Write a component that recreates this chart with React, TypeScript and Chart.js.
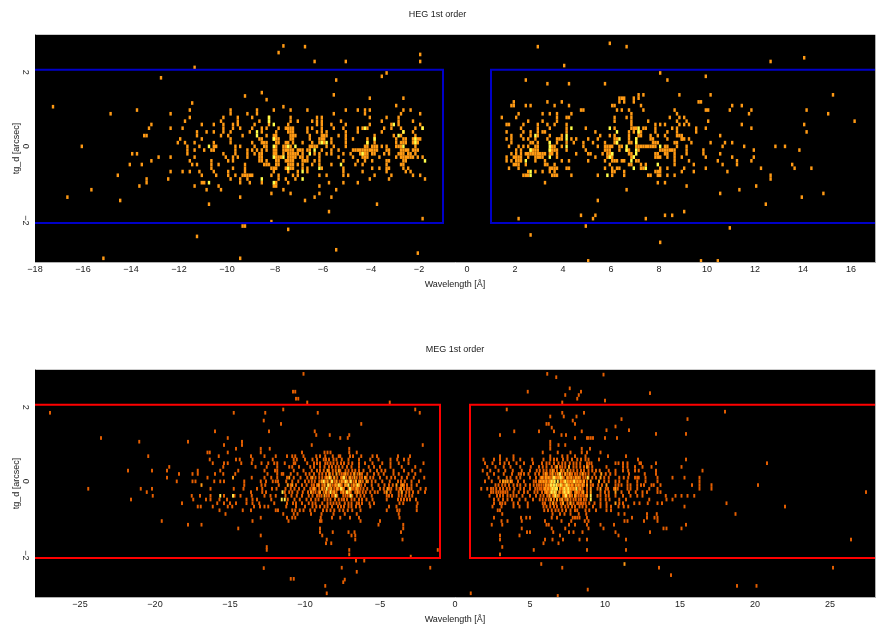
import { useEffect, useRef } from 'react';
import { Chart, registerables } from 'chart.js';

Chart.register(...registerables);

type Rows = [number, number[]][];

const hegTicks = [-18, -16, -14, -12, -10, -8, -6, -4, -2, 0, 2, 4, 6, 8, 10, 12, 14, 16];
const megTicks = [-25, -20, -15, -10, -5, 0, 5, 10, 15, 20, 25];
const dTicks = [-2, 0, 2];

const hegBoxLeft = [[-18, 2.07], [-1, 2.07], [-1, -2.07], [-18, -2.07]];
const hegBoxRight = [[17, 2.07], [1, 2.07], [1, -2.07], [17, -2.07]];
const megBoxLeft = [[-28, 2.07], [-1, 2.07], [-1, -2.07], [-28, -2.07]];
const megBoxRight = [[28, 2.07], [1, 2.07], [1, -2.07], [28, -2.07]];

// [tg_d, wavelengths] for each row of counts
const hegRows: Rows = [
  [2.78, [5.95]],
  [2.71, [-7.65]],
  [2.69, [-6.75, 2.95, 6.65]],
  [2.53, [-7.85]],
  [2.48, [-1.95]],
  [2.39, [14.05]],
  [2.29, [-6.35, -5.05, -1.95, 12.65]],
  [2.18, [4.05]],
  [2.13, [-11.35]],
  [1.98, [-3.35, 8.05]],
  [1.89, [-3.55, 9.95]],
  [1.85, [-12.75]],
  [1.79, [-5.45, 2.45, 8.35]],
  [1.69, [3.35, 4.25, 5.75]],
  [1.45, [-8.55]],
  [1.39, [-5.55, 7.15, 7.35, 8.85, 10.15, 15.25]],
  [1.36, [-9.25]],
  [1.3, [-4.05, -2.65, 6.35, 6.45, 6.55, 6.95, 7.15]],
  [1.26, [-8.35]],
  [1.2, [1.95, 3.35, 3.95, 6.35, 6.55, 6.95, 9.65, 9.75]],
  [1.17, [-11.45]],
  [1.1, [-2.95, 1.85, 1.95, 2.45, 2.65, 3.65, 4.25, 6.05, 6.15, 7.25, 11.05, 11.45]],
  [1.07, [-17.25, -7.65]],
  [0.98, [-13.75, -11.55, -9.85, -8.75, -8.05, -7.35, -6.65, -5.05, -4.55, -4.25, -4.05, -2.65, -2.35, 4.75, 4.85, 6.25, 6.45, 6.75, 7.35, 8.65, 9.95, 10.05, 10.95, 11.85, 14.15]],
  [0.88, [-14.85, -12.35, -9.85, -9.15, -8.75, -5.55, -4.25, -2.75, -1.95, 2.15, 3.15, 3.45, 3.75, 4.35, 6.85, 8.75, 11.75, 15.05]],
  [0.78, [-11.55, -10.15, -9.55, -8.95, -8.25, -7.35, -6.25, -6.05, -4.05, -3.35, -2.85, 1.45, 2.05, 3.75, 4.15, 4.25, 6.15, 6.65, 6.85, 8.45, 8.85, 9.05]],
  [0.68, [-11.75, -10.25, -9.55, -8.65, -8.25, -7.35, -7.05, -6.45, -6.25, -6.05, -5.25, -3.55, -2.85, -2.25, 2.55, 3.15, 3.75, 6.15, 6.85, 7.55, 8.75, 9.15, 10.05, 16.15]],
  [0.59, [-13.15, -11.05, -10.55, -10.15, -9.75, -9.55, -8.85, -8.25, -7.45, -6.25, -6.05, -5.65, -5.05, -4.05, -3.15, -2.85, -1.95, 1.65, 1.75, 2.35, 2.95, 3.35, 3.65, 4.15, 6.85, 7.85, 8.05, 8.25, 8.85, 9.05, 9.25, 11.45, 14.05]],
  [0.49, [-13.25, -12.35, -11.85, -10.15, -9.75, -9.45, -8.95, -8.55, -8.35, -7.85, -7.45, -7.35, -7.25, -6.65, -6.45, -6.05, -5.55, -5.15, -4.55, -4.35, -4.15, -3.45, -3.15, -2.75, -2.15, -1.85, 2.25, 2.95, 3.45, 4.15, 4.95, 6.15, 6.85, 7.45, 7.85, 8.55, 8.75, 9.55, 9.95, 11.85]],
  [0.39, [-11.25, -10.85, -10.55, -10.15, -9.85, -9.05, -8.55, -7.95, -7.35, -7.25, -6.65, -6.25, -6.05, -5.85, -5.05, -4.55, -3.55, -2.65, -2.25, 1.65, 2.35, 2.65, 2.95, 3.15, 4.15, 5.35, 6.75, 6.95, 7.25, 7.85, 8.35, 8.75, 9.55, 14.15]],
  [0.29, [-13.45, -13.35, -11.25, -10.25, -9.95, -9.35, -8.35, -8.05, -7.35, -7.15, -6.55, -6.05, -5.85, -5.35, -5.05, -3.85, -3.05, -2.75, -2.15, 1.85, 2.25, 2.65, 2.95, 3.45, 3.95, 5.55, 5.95, 6.15, 6.75, 7.25, 7.65, 7.95, 8.25, 8.75, 10.55]],
  [0.2, [-11.95, -11.05, -9.85, -8.55, -8.05, -7.85, -7.35, -7.25, -6.55, -6.05, -5.65, -5.05, -4.75, -4.15, -3.85, -2.95, -2.65, -2.15, -1.95, 1.65, 1.85, 2.35, 2.55, 2.85, 3.35, 3.75, 3.95, 4.35, 4.55, 5.05, 5.45, 6.15, 6.75, 7.05, 7.65, 8.35, 8.95, 9.25]],
  [0.1, [-12.05, -11.75, -11.35, -10.55, -9.85, -8.95, -8.55, -8.35, -7.85, -7.45, -7.25, -6.85, -6.45, -5.65, -5.05, -4.15, -3.85, -2.95, -2.65, -2.15, 1.85, 2.65, 2.95, 3.45, 3.75, 4.15, 4.45, 4.85, 5.25, 5.75, 6.15, 6.75, 7.05, 7.95, 8.75, 9.35, 10.15, 10.75, 11.05]],
  [0, [-16.05, -11.65, -11.15, -10.55, -10.45, -9.65, -9.45, -8.85, -8.35, -7.65, -7.35, -6.45, -6.25, -5.85, -5.55, -5.05, -4.25, -3.85, -3.55, -3.35, -2.85, -2.15, 1.75, 2.15, 2.35, 2.55, 2.85, 3.65, 3.95, 4.85, 5.45, 5.85, 6.05, 6.35, 7.05, 7.45, 7.65, 8.25, 8.75, 9.15, 10.65, 11.55, 12.85, 13.25]],
  [-0.1, [-11.65, -11.35, -10.95, -10.65, -10.55, -9.65, -9.15, -8.95, -8.75, -8.35, -8.05, -7.65, -7.45, -7.35, -7.05, -6.85, -6.65, -6.05, -5.65, -5.35, -4.75, -4.55, -4.15, -3.85, -3.35, -3.25, -2.75, -2.55, -2.25, 2.05, 2.25, 2.65, 2.95, 3.45, 3.75, 4.15, 4.95, 5.75, 5.95, 6.35, 6.65, 7.15, 8.05, 8.45, 9.15, 9.85, 11.95, 13.85]],
  [-0.2, [-13.95, -13.75, -11.65, -10.15, -9.65, -9.15, -8.85, -8.65, -8.05, -7.65, -7.45, -7.35, -7.15, -6.85, -6.15, -5.85, -5.65, -5.15, -4.85, -4.25, -3.85, -3.45, -3.25, -2.85, -2.45, -2.15, 1.85, 2.05, 2.45, 2.65, 2.85, 3.15, 3.55, 3.75, 4.55, 5.05, 5.15, 5.65, 6.05, 6.75, 7.95, 8.25, 8.65, 9.15, 9.85, 10.55]],
  [-0.29, [-12.85, -12.35, -11.35, -10.05, -9.75, -9.55, -9.15, -8.65, -7.85, -7.45, -7.35, -7.15, -6.85, -6.65, -6.15, -5.35, -4.75, -4.35, -4.15, -3.65, -2.95, -2.75, -2.45, -2.05, -1.85, 1.65, 1.95, 2.15, 2.55, 2.95, 3.15, 3.75, 5.35, 5.95, 6.95, 7.95, 8.35, 8.65, 8.95, 9.95, 11.05, 11.95]],
  [-0.39, [-13.15, -11.55, -10.65, -9.95, -9.75, -8.65, -8.35, -7.85, -7.55, -7.35, -7.25, -6.85, -6.65, -6.35, -6.15, -5.15, -4.55, -4.25, -3.95, -3.35, -3.25, -2.65, 1.65, 1.85, 2.15, 2.85, 3.25, 3.95, 4.25, 5.05, 5.75, 6.05, 6.55, 8.65, 9.25, 10.45, 11.25, 11.85]],
  [-0.49, [-14.05, -13.55, -11.45, -11.25, -10.65, -10.35, -9.25, -8.35, -8.25, -7.85, -7.45, -7.35, -7.05, -6.85, -6.45, -6.15, -5.65, -4.65, -4.35, -3.35, -2.75, 1.95, 2.15, 2.45, 3.25, 3.65, 5.95, 6.75, 7.25, 7.45, 8.65, 9.45, 10.65, 11.25, 13.55]],
  [-0.59, [-10.65, -9.75, -9.25, -8.15, -7.95, -7.55, -7.35, -6.85, -6.65, -6.05, -5.15, -3.95, -3.65, -3.35, -2.65, -2.45, 1.75, 2.15, 3.45, 3.65, 4.15, 4.25, 5.75, 6.05, 6.35, 7.25, 8.05, 8.35, 9.05, 9.95, 12.25, 13.65, 14.35]],
  [-0.68, [-12.35, -11.85, -11.55, -11.15, -10.55, -9.95, -9.25, -7.45, -7.05, -6.65, -5.15, -4.35, -3.35, -2.55, -2.35, 2.85, 3.15, 3.45, 3.65, 6.05, 6.55, 7.85, 8.95, 9.45, 10.85]],
  [-0.78, [-14.55, -11.05, -10.45, -9.95, -9.65, -9.25, -9.05, -8.95, -8.15, -7.85, -7.25, -7.05, -6.15, -5.85, -5.15, -4.95, -3.85, -3.15, -2.25, -1.95, 2.45, 2.55, 3.55, 3.65, 4.35, 5.45, 6.05, 6.55, 7.65, 7.95, 8.35, 8.65, 12.65]],
  [-0.88, [-13.35, -12.45, -9.85, -9.45, -9.15, -7.85, -7.55, -7.15, -4.05, -3.25, -1.75, 12.65]],
  [-0.98, [-13.35, -11.05, -10.95, -9.45, -9.05, -8.55, -7.95, -7.45, -5.75, -5.15, -4.55, 3.25, 7.95, 8.25]],
  [-1.07, [-13.65, -11.35, -10.35, -8.05, -7.95, -6.15, 9.15, 12.05]],
  [-1.17, [-15.65, -10.85, -10.25, -7.65, -5.45, 6.65, 11.35]],
  [-1.27, [-8.15, -7.35, -6.15, 10.55, 14.85]],
  [-1.37, [-16.65, -9.45, -6.35, -5.65, 13.95]],
  [-1.46, [-14.45, -6.75, 5.45]],
  [-1.56, [-10.75, -3.75, 12.45]],
  [-1.76, [-5.75, 9.05]],
  [-1.86, [4.75, 5.35, 8.25, 8.55]],
  [-1.95, [-1.85, 2.15, 5.25, 7.45]],
  [-2.03, [-8.15]],
  [-2.15, [-9.35, -9.25, 4.95]],
  [-2.2, [10.95]],
  [-2.24, [-7.45]],
  [-2.39, [2.65]],
  [-2.43, [-11.25]],
  [-2.59, [8.05]],
  [-2.79, [-5.45]],
  [-2.88, [-2.05]],
  [-3.02, [-15.15, -9.45]],
  [-3.09, [5.05, 9.75, 10.45]],
];

// wider patches of neighbouring bins in the dense part of the HEG image
const hegPatchRows: Rows = [
  [0.49, [-7.55, 6.95, 7.05, 7.35]],
  [0.39, [-7.45, 3.25, 7.15]],
  [0.29, [-7.95, -7.25, -5.95, 7.15, 8.85, 8.95]],
  [0.2, [-8.65, -7.95, -6.15, -5.95, -2.55, -2.25, -2.05, 3.85, 6.25, 7.75, 8.95, 9.05]],
  [0.1, [-8.45, -7.95, -7.55, -6.15, -5.95, -2.75, -2.55, -2.25, -2.05, 2.75, 6.25, 6.85, 7.75, 7.85, 8.65]],
  [0, [-8.45, -7.95, -7.55, -6.55, -6.35, -4.15, -3.95, -3.75, -2.95, -2.75, 2.95, 3.55, 5.75, 5.95, 6.45, 7.15, 7.25, 7.35, 7.55, 7.75, 7.85, 8.35]],
  [-0.1, [-8.55, -7.95, -7.55, -7.25, -6.95, -6.55, -4.65, -4.45, -4.35, -4.25, -4.05, -3.95, -3.75, -2.65, -2.45, -2.15, -2.05, 2.75, 2.85, 3.55, 3.65, 5.85, 6.75, 8.15, 8.25, 8.35, 8.55, 8.65]],
  [-0.2, [-8.55, -7.95, -7.25, -7.05, -6.35, -4.45, -4.35, -4.15, -3.95, -2.75, -2.65, -2.35, 2.25, 2.55, 2.75, 2.95, 3.05, 3.25, 3.45, 5.85, 5.95, 6.85, 7.85, 8.35]],
  [-0.29, [-8.55, -7.95, -7.75, -7.25, -6.95, -4.25, -2.65, -2.55, -2.35, -2.25, 2.05, 2.25, 2.85, 3.05, 5.85, 6.05, 6.85, 7.85, 8.05]],
  [-0.39, [-8.55, -7.95, -7.45, -6.75, -2.55, 2.25, 2.05, 6.15, 6.25, 6.45, 7.05, 7.15]],
  [-0.49, [-8.45, -7.95, -7.25, -2.65, 2.05, 3.35, 6.85]],
  [-0.59, [-8.05, -7.25, -3.25, 3.55, 3.75, 6.25, 7.35]],
  [-0.68, [-8.05, 2.55, 6.15, 7.95, 8.05]],
  [-0.78, [-9.15, -9.35, 2.35, 3.75, 7.55, 8.05]],
];

const hegHotRows: Rows = [
  [0.78, [-8.25]],
  [0.68, [-8.25]],
  [0.59, [-8.05, -3.05]],
  [0.49, [-4.25, -1.85, 4.35, 5.95, 7.15]],
  [0.39, [-8.75, -2.65, 6.25, 7.15]],
  [0.29, [-8.75, -2.85, 2.85, 4.15]],
  [0.2, [-8.05, -3.85, -2.15, 4.15, 6.35, 7.05]],
  [0.1, [-6.05, -5.85, -4.15, -2.15, 3.45, 6.25, 7.05]],
  [0, [-10.75, -8.05, -7.45, -7.15, -2.65, 3.45, 4.15, 6.65, 8.05]],
  [-0.1, [-6.35, 2.65, 3.45, 6.65, 7.05]],
  [-0.2, [-6.55, -4.35, 6.05, 7.05]],
  [-0.29, [-8.05, -7.65, 3.45, 5.95, 6.95]],
  [-0.39, [-1.75, 2.45, 6.85]],
  [-0.49, [-5.25, 7.95]],
  [-0.59, [-7.45, -6.15, 6.95, 7.45]],
  [-0.68, [-6.85, 2.65]],
  [-0.78, [2.65, 5.85]],
  [-0.88, [-8.55, -6.85]],
  [-0.98, [-10.75, -8.05]],
];

const megRows: Rows = [
  [2.9, [-10.1, 6.15]],
  [2.88, [9.9]],
  [2.81, [6.75]],
  [2.51, [7.65]],
  [2.42, [-10.8, -10.65, 4.85, 8.4]],
  [2.38, [13]],
  [2.33, [7.35, 8.25]],
  [2.23, [-10.6, -10.45, 8.15]],
  [2.13, [-9.85, -4.35, 7.15]],
  [2.18, [10]],
  [1.94, [-11.45, -2.65, 3.45]],
  [1.88, [18]],
  [1.85, [-27, -14.75, -12.65, -9.15, -2.35, 7.15, 8.6]],
  [1.75, [6.35, 7.25, 8.1]],
  [1.68, [11.1, 15.5]],
  [1.64, [-12.75, 7.85]],
  [1.55, [-11.6, -6.25, 6.1, 6.25, 8]],
  [1.48, [10.7]],
  [1.45, [6.45]],
  [1.38, [10.1, 11.6]],
  [1.35, [-16, -12.4, -9.35, 3.95, 5.6, 6.6, 8.45]],
  [1.28, [13.4, 15.4]],
  [1.25, [-9.25, -8.35, -7.05, 3, 7.1, 7.4]],
  [1.17, [-23.6, -15.15, -7.65, -7.15, 8, 8.8, 8.9, 9.05, 9.2, 10, 10.8]],
  [1.07, [-21.05, -17.8, -14.2, 6.35]],
  [0.98, [-15.4, -14.2, -9.55, -2.15, 6.35, 6.9, 7.35]],
  [0.88, [-14.6, -12.95, -12.35, -7.05, 6.35, 8.45, 9]],
  [0.78, [-16.5, -16.35, -15.15, -12.95, -10.2, -8.7, -8.5, -8.3, -7.05, -6.55, 5.85, 6.85, 7.7, 8.45, 8.8, 9.7]],
  [0.68, [-20.45, -15.75, -13.6, -12.7, -11.95, -11.2, -10.85, -10.65, -10.1, -9.25, -9, -8.65, -8.15, -7.75, -7.65, -7, -6.8, -6.25, -5.5, -5.2, -3.8, -3, 3, 3.9, 6.35, 7.15, 7.5, 8, 8.7, 10.2, 11.4]],
  [0.59, [-16.35, -14.6, -14.35, -13.5, -12.15, -10.75, -10.55, -10, -9.2, -8.75, -8.4, -8.1, -7.55, -7.1, -6.4, -5.65, -5.1, -4.3, -3.85, -3.4, -3.1, 1.9, 2.6, 3, 3.45, 3.9, 4.35, 5.15, 5.9, 6.35, 6.8, 7.5, 8.15, 8.7, 8.9, 9.6, 12.2, 15.4]],
  [0.49, [-16.15, -15.4, -15.15, -14.25, -13.55, -12.9, -12.45, -12.05, -11.85, -11.35, -10.75, -10.65, -9.85, -9.4, -9, -8.65, -8.3, -7.85, -7.4, -6.85, -6.4, -6, -5.5, -4.85, -4.3, -3.75, -3.1, -2.1, 2, 2.5, 3, 3.6, 4.1, 4.6, 5.2, 5.8, 6.1, 6.6, 6.9, 7.35, 7.65, 7.9, 8.35, 8.8, 8.95, 9.1, 10.7, 10.9, 11.2, 11.5, 12.3, 12.4, 13.4, 20.8]],
  [0.39, [-19.05, -15.45, -13.3, -12.55, -11.85, -11.05, -10.85, -10.4, -9.65, -9, -8.4, -8.2, -7.75, -7.2, -6.4, -5.75, -5, -4.3, -3.55, -2.65, 2.15, 2.7, 3.25, 3.7, 4.35, 5.05, 5.6, 6.1, 6.45, 7, 7.35, 7.9, 8.35, 8.9, 9.15, 10.1, 11.2, 11.5, 12, 12.5, 13.1, 15.1]],
  [0.29, [-21.8, -20.2, -19.2, -17.15, -15.65, -14.45, -12.7, -12, -11.85, -10.75, -10.1, -9.55, -8.75, -8.4, -7.65, -7.3, -6.65, -6.1, -5.65, -5.2, -4.65, -4.1, -3.4, -2.85, -2.3, 1.85, 2.35, 2.9, 3.35, 3.85, 4.45, 5, 5.45, 5.9, 6.35, 6.8, 7.25, 7.7, 8.15, 8.6, 9.15, 9.4, 9.65, 10.25, 10.7, 11.2, 11.55, 12, 12.25, 13.4, 16.5]],
  [0.2, [-18.4, -17.5, -17.15, -16, -15.45, -14.65, -12.5, -11.85, -11.55, -11.45, -10.95, -10.5, -9.95, -9.7, -9.05, -8.6, -8.15, -7.7, -7.4, -6.95, -6.5, -6.2, -5.4, -4.75, -4.1, -3.75, -3.1, -2.65, 2.15, 2.6, 3.25, 3.8, 4.25, 4.6, 4.9, 5.6, 5.9, 6.15, 6.35, 6.7, 6.95, 7.15, 7.5, 7.8, 8.15, 8.35, 8.7, 8.9, 9.3, 10.05, 10.35, 10.7, 11.6, 12.65, 13.4]],
  [0.1, [-19.2, -16.5, -13.55, -12.7, -12.25, -11.85, -11.2, -10.75, -10.3, -9.85, -9.6, -9.3, -8.85, -8.45, -8.25, -7.85, -7.6, -7.25, -6.85, -6.55, -6.2, -5.9, -5.45, -5, -4.55, -4, -3.55, -3.2, -2.75, -2.05, 2.25, 2.9, 3.45, 4.1, 4.35, 5, 5.7, 5.9, 6.15, 6.35, 6.8, 7, 7.25, 7.6, 7.9, 8.15, 8.35, 8.7, 8.9, 9.15, 9.4, 9.95, 10.25, 10.95, 11.25, 11.55, 12, 12.15, 12.25, 12.7, 13.5, 14.5, 15.3, 16.3]],
  [0, [-18.55, -17.5, -17.3, -16.05, -15.65, -15.4, -14.05, -12.95, -12.6, -12.15, -11.95, -11.8, -11.25, -10.85, -10.45, -10, -9.75, -9.35, -9.05, -8.65, -8.3, -8.05, -7.7, -7.4, -7.05, -6.75, -6.4, -6.15, -5.8, -5.3, -4.85, -4.35, -3.8, -3.35, -2.9, -2.4, 2, 2.45, 3, 3.8, 4.2, 4.6, 5.25, 5.8, 6, 6.25, 7.15, 7.35, 7.6, 7.8, 8, 8.25, 8.45, 8.8, 9.95, 10.25, 10.7, 10.95, 11.5, 12.15, 12.7, 13.5, 16.3]],
  [-0.1, [-14.05, -12.9, -12.65, -11.75, -10.95, -10.6, -10.2, -9.9, -9.55, -9.2, -8.85, -8.5, -8.15, -7.85, -7.55, -7.2, -6.9, -6.6, -6.25, -6, -5.1, -4.7, -4.15, -3.6, -3.2, -2.55, 2.7, 2.9, 3.15, 3.35, 3.6, 3.9, 4.35, 4.7, 5, 5.6, 5.9, 6.15, 6.35, 6.8, 7, 7.25, 7.7, 7.9, 8.15, 8.35, 8.6, 9.05, 9.2, 9.55, 9.8, 10.7, 10.9, 11.1, 11.5, 11.7, 12.15, 12.4, 12.6, 13.1, 13.25, 13.7, 15.8, 16.3, 17.1, 20.2]],
  [-0.2, [-24.45, -20.95, -20.2, -16.3, -14.75, -14.1, -13.2, -12.85, -12.2, -11.9, -11.3, -10.95, -10.7, -10.4, -10.05, -9.65, -9.3, -9.05, -8.7, -8.4, -8.05, -7.75, -7.4, -7.1, -6.8, -6.45, -6.1, -5.85, -5, -4.75, -4.4, -4.25, -3.9, -3.7, -3.4, -2.9, -2.3, -1.95, 1.75, 2.15, 2.4, 3, 3.45, 3.95, 4.35, 5, 5.65, 5.9, 6.1, 6.3, 7.1, 7.35, 7.6, 7.8, 8, 8.25, 8.5, 8.8, 9.5, 10.05, 10.2, 10.6, 10.85, 11.5, 11.7, 12.15, 12.95, 13.5, 16.3, 17.1]],
  [-0.29, [-20.55, -13.6, -12.85, -12.6, -11.35, -11.05, -10.85, -10.5, -10.15, -9.8, -9.45, -9.1, -8.75, -8.45, -8.15, -7.9, -7.6, -7.3, -6.95, -6.65, -6.35, -5.95, -5.65, -5.35, -4.7, -4.3, -3.75, -3.25, -2.8, -2.45, -2, 2.4, 2.75, 2.9, 3.05, 3.2, 3.35, 3.9, 4.25, 4.85, 5.3, 5.8, 6, 6.2, 7.05, 7.5, 7.75, 8, 8.2, 8.45, 8.8, 9.7, 10, 10.25, 11.1, 11.6, 12.05, 12.5, 12.8, 13.5, 13.7, 27.4]],
  [-0.39, [-20.15, -17.55, -17, -16.3, -15.4, -14.7, -14.3, -13.55, -12.7, -12.3, -11.95, -11.3, -10.9, -10.55, -10.2, -9.75, -9.5, -9.2, -8.9, -8.55, -8.2, -7.85, -7.45, -7.15, -6.85, -6.3, -6.05, -5.55, -4.4, -4.2, -3.75, -3.3, -2.85, 2.3, 2.8, 3, 3.5, 3.7, 4.1, 4.5, 5, 5.9, 6.15, 6.5, 6.95, 7.2, 7.5, 7.8, 8.1, 8.4, 8.7, 9.5, 9.7, 10.05, 10.25, 10.7, 11.2, 11.7, 12.15, 12.5, 14.05, 14.7, 15.1, 15.5, 15.95]],
  [-0.49, [-21.6, -17.45, -16.6, -16.3, -15.7, -15.2, -13.9, -13.5, -13.2, -12.25, -11.15, -10.7, -10.35, -9.9, -9.6, -9.1, -8.7, -8.3, -8, -7.55, -7.2, -6.7, -6.4, -5.9, -5.5, -4.55, -3.6, -3.4, -3, -2.6, 2.6, 3.2, 3.8, 4.3, 4.7, 5.2, 5.85, 6.25, 6.6, 7, 7.35, 7.7, 8.05, 8.4, 8.75, 9.7, 10.05, 10.3, 10.95, 11.4, 12.95, 14.1, 14.5]],
  [-0.59, [-18.2, -15.85, -15.4, -15, -14.6, -13.9, -13.5, -13.05, -12.05, -11.2, -10.8, -10.6, -10.2, -9.75, -9.3, -8.85, -8.5, -8.1, -7.7, -7.35, -7.1, -6.55, -6.2, -5.7, -5.4, -3.7, -3.45, -2.5, 2.6, 3.15, 3.35, 3.9, 4.2, 4.85, 6, 6.35, 6.75, 7.05, 7.5, 7.9, 8.15, 8.4, 8.7, 8.95, 9.3, 9.7, 10.1, 10.95, 11.2, 11.95, 12.3, 12.85, 13.5, 13.8, 18.1]],
  [-0.68, [-17.15, -16.95, -16.15, -15.15, -14.85, -13.4, -13, -12.7, -12.45, -11.25, -10.6, -10, -9.5, -9, -8.5, -8.2, -7.8, -7.4, -6.9, -6.35, -5.65, -4.4, -3.9, -2.55, 2.5, 3.1, 3.9, 4.3, 4.85, 5.9, 6.35, 6.8, 7.35, 7.55, 8, 8.3, 8.75, 9.2, 9.7, 10.1, 10.4, 10.9, 11.25, 11.55, 15.3, 22]],
  [-0.78, [-15.7, -14.15, -13.6, -11.95, -11.8, -10.85, -10.65, -10.35, -10.1, -9.65, -9.35, -8.55, -8.05, -7.45, -6.85, -6.3, -4.55, -3.85, -3.7, -2.55, 2.85, 3, 5.95, 6.45, 6.9, 7.4, 7.7, 8.15, 8.7, 8.95, 9.4, 10.1, 10.4]],
  [-0.88, [-15.3, -11.45, -10.75, -10.5, -9.6, -8.9, -8.1, -7.35, -6.55, -3.75, 3.15, 6.5, 7, 7.3, 7.7, 8.25, 8.75, 10.9, 11.3, 12.8, 13.45, 18.7]],
  [-0.98, [-12.95, -11.2, -10.85, -10.65, -8.95, -8.2, -7.65, -7, -6.4, -3.7, 2.6, 4.4, 4.75, 5, 6.45, 6.8, 7.85, 8, 8.15, 8.3, 8.8, 11.8, 12.8, 13.3, 13.5]],
  [-1.07, [-19.55, -13.5, -11.1, -9, -8.9, -6.3, -5, 3.1, 3.5, 4.45, 6, 7.1, 7.75, 8.65, 8.9, 11.3, 11.5, 12.6, 13.5]],
  [-1.17, [-17.8, -16.9, -5.1, -3.45, 2.45, 3.15, 6.1, 6.25, 7.6, 8, 8.8, 9.7, 10.6, 15.4]],
  [-1.27, [-14.45, -9, -3.45, 4.45, 6.45, 7.35, 8.9, 9.9, 13.9, 14.1, 15.1]],
  [-1.37, [-9, -8.15, -7.1, -6.7, -3.6, 4.8, 5, 6.55, 7.6, 7.9, 8.5, 10.7, 13]],
  [-1.46, [-12.95, -8.85, -6.9, -6.65, 3, 4.3, 7, 10.9]],
  [-1.57, [-8.55, -6.65, -3.5, 3, 6, 6.5, 7.2, 8.3, 8.8, 11.4, 26.4]],
  [-1.67, [-8.6, -8.25, 5.9, 6.9]],
  [-1.77, [-12.55, 3.15]],
  [-1.85, [-12.55, -7.05, -1.15, 5.25, 8.8, 11.4]],
  [-1.97, [3, -7.05]],
  [-2.03, [-2.95]],
  [-2.14, [-6.6, -6.05]],
  [-2.23, [5.75]],
  [-2.33, [-7.55, -1.65, 7.15, 13.6, 25.2]],
  [-2.34, [-12.75]],
  [-2.44, [-6.55]],
  [-2.53, [14.4]],
  [-2.63, [-10.95, -10.75]],
  [-2.65, [-7.35]],
  [-2.72, [-7.45]],
  [-2.82, [-8.65, 18.8, 20.1]],
  [-2.92, [8.85]],
  [-3.02, [-8.55, 1.05]],
  [-3.09, [6.85]],
];

// filled-in stretches of the two MEG core blobs
const megPatchRows: Rows = [
  [0.59, [-9.5, -8.6, -7.9, 6.6, 7.2, 7.8, 8.4]],
  [0.49, [-9.2, -8.5, -8.1, -7.6, -7.1, 3.3, 6.3, 7.15, 8.1]],
  [0.39, [-9.4, -8.7, -7.95, -7.5, -6.9, -5.4, 5.85, 6.7, 7.15, 7.6, 8.1, 8.6]],
  [0.29, [-9.2, -9, -8.15, -7.95, -7.1, -6.85, -6.4, -4.9, 5.65, 6.1, 6.6, 7.05, 7.9, 8.4, 8.9]],
  [0.2, [-9.4, -8.85, -8.4, -7.55, -7.15, -6.75, -5.85, -5.1, 4.4, 5.35, 6.05, 6.5, 7.35, 7.65, 8, 8.55]],
  [0.1, [-9.05, -8.65, -8.05, -7.45, -7.05, -6.35, -5.65, -4.25, 3.7, 5.4, 6.05, 6.5, 7.45, 7.75, 8.05, 8.55]],
  [0, [-9.55, -8.85, -8.5, -7.9, -7.55, -6.9, -6.6, -5.55, -3.6, 3.2, 3.5, 5.4, 5.6, 6.1, 6.35, 7.05, 7.5, 8.15, 8.6]],
  [-0.1, [-9.4, -9.05, -8.7, -8.35, -8, -7.65, -7.35, -6.75, -6.4, -5.55, -4.4, -3.4, -2.9, 4.15, 5.25, 5.45, 5.75, 6.05, 7.5, 8.5]],
  [-0.2, [-9.5, -8.85, -8.25, -7.9, -7.55, -6.95, -6.65, -6.3, -5.5, -3.2, -3.05, 2.55, 2.75, 3.2, 3.65, 4.6, 5.35, 5.5, 5.75, 6, 7.45, 7.9, 8.35]],
  [-0.29, [-9.3, -8.6, -8.3, -8.05, -7.45, -7.15, -6.5, -6.15, -5.15, -3.55, -3.05, 2.55, 3.5, 4.6, 5.5, 6.1, 7.4, 8.3, 8.55]],
  [-0.39, [-9.05, -8.4, -8.05, -7.3, -7, -6.55, -4.55, -3.55, -3.05, 3.2, 3.9, 5.4, 5.7, 6.3, 6.7, 7.35, 7.65, 8, 8.25, 8.55]],
  [-0.49, [-9.3, -8.5, -7.75, -7.4, -6.9, -6.2, -3.8, -3.2, 2.9, 3.5, 5.65, 6.05, 6.8, 7.15, 7.5, 7.9, 8.25, 8.6]],
  [-0.59, [-9.5, -8.3, -7.9, -6.9, -6.4, 3, 5.85, 6.55, 7.2, 7.7, 8.25, 8.55]],
  [-0.68, [-9.25, -8.7, -7.6, -7.1, -6.6, 6.1, 6.6, 7.1, 7.8, 8.5]],
  [-0.78, [-8.8, -8.3, -7.7, -7.15, 6.2, 6.7, 7.15, 8]],
];

const megWarmRows: Rows = [
  [0.39, [6.8, 7.6, 8.8]],
  [0.29, [-8.5, -7.75, 6.5, 7.1, 7.5]],
  [0.2, [-8.35, -7.9, -7.3, -6.7, -6.35, 6.05, 6.5, 6.85, 7.35, 7.65, 8.5, 9.75]],
  [0.1, [-14.8, -11.05, -9.5, -8.55, -8.05, -7.5, -7, -6.7, -6, 5.8, 6.05, 6.25, 6.5, 6.7, 6.9, 7.15, 7.5, 7.75, 8.05, 8.25, 9.7]],
  [0, [-8.9, -8.5, -7.9, -7.55, -7.2, -6.6, -6.3, -5.9, 3.2, 3.35, 3.5, 3.7, 5.7, 5.9, 6.1, 6.35, 6.55, 7.05, 7.25, 7.5, 7.7, 7.9, 8.15, 8.35, 8.6, 9.05, 9.6]],
  [-0.1, [-16.9, -11.15, -10.85, -9.1, -8.7, -8.3, -7.95, -7.65, -7.3, -6.75, -6.4, -3.9, -3.5, 6.05, 6.25, 6.5, 6.9, 7.15, 7.35, 7.6, 7.8, 8.05, 8.25, 8.5, 8.8, 10.1]],
  [-0.2, [-9.4, -8.85, -8.25, -7.85, -7.5, -6.95, -6.55, -4.5, -3.6, 6, 6.2, 6.4, 6.6, 7, 7.2, 7.45, 7.7, 7.9, 8.35, 9.05, 9.7, 10.7]],
  [-0.29, [-9.6, -9, -8.6, -8.05, -7.45, -7.05, -6.5, -4.55, -3.55, 6.1, 6.35, 6.55, 6.75, 6.95, 7.2, 7.4, 7.65, 8.1, 8.55, 9.05, 10.7]],
  [-0.39, [-8.7, 6.3, 6.6, 6.85, 7.3, 7.65, 8, 8.8]],
  [-0.49, [6.4, 6.8, 7.15, 7.5]],
  [-0.59, [6.55, 7.2, 7.7, 10.7]],
  [-2.23, [11.3]],
];

const megHotRows: Rows = [
  [0.2, [7]],
  [0.1, [-8.35, -7.4, 6.6, 7.05, 8.85]],
  [0, [-8.75, -8.2, -7.3, -6.95, 6.45, 6.65, 6.85, 7.35, 7.95]],
  [-0.1, [-8.45, -7.75, -7.1, -6.5, 6.4, 6.6, 6.75, 7.05, 7.45]],
  [-0.2, [-8.55, -7.6, -7, 6.5, 6.7, 6.8, 7.3, 7.55, 8.1]],
  [-0.29, [-11.5, -8.3, -7.2, 6.45, 6.65, 7.3, 7.55]],
  [-0.39, [-15.65, -14.8, -7.95, -6.95, 6.7, 7.4, 9.05]],
  [-0.49, [-11.55, -11.35, 9.05]],
];

const toPoints = (rows: Rows) =>
  rows.flatMap(([d, xs]) => xs.map((x) => ({ x, y: d })));
const toLine = (pts: number[][]) => pts.map(([x, y]) => ({ x, y }));

// fills the black image area and the binned counts, using the chart's scales
const cellsPlugin = {
  id: 'cells',
  beforeDatasetsDraw(chart: any) {
    const { ctx, chartArea: a, scales } = chart;
    ctx.save();
    ctx.fillStyle = '#000';
    ctx.fillRect(a.left, a.top, a.width, a.height);
    ctx.beginPath();
    ctx.rect(a.left, a.top, a.width, a.height);
    ctx.clip();
    chart.data.datasets.forEach((ds: any) => {
      if (!ds.cellColor) return;
      ctx.fillStyle = ds.cellColor;
      ds.data.forEach((p: any) => {
        const x0 = scales.x.getPixelForValue(p.x - ds.cellWidth / 2);
        const x1 = scales.x.getPixelForValue(p.x + ds.cellWidth / 2);
        const y0 = scales.y.getPixelForValue(p.y + 0.049);
        const y1 = scales.y.getPixelForValue(p.y - 0.049);
        ctx.fillRect(x0, y0, x1 - x0, y1 - y0);
      });
    });
    ctx.restore();
  },
  afterDraw(chart: any) {
    const { ctx, chartArea: a } = chart;
    ctx.save();
    ctx.strokeStyle = '#b0b0b0';
    ctx.lineWidth = 1;
    ctx.beginPath();
    ctx.moveTo(a.right + 0.5, a.top);
    ctx.lineTo(a.right + 0.5, a.bottom);
    ctx.stroke();
    ctx.restore();
  },
};

const font = { family: '"Liberation Sans", sans-serif', size: 9, weight: 'normal' };
const textColor = '#222';

function makeChart(
  canvas: HTMLCanvasElement,
  title: string,
  titleTop: number,
  titleFull: boolean,
  xMin: number,
  xMax: number,
  xTicks: number[],
  xTitlePad: number,
  xBoxHeight: number,
  datasets: any[],
) {
  return new Chart(canvas, {
    type: 'scatter',
    data: { datasets },
    options: {
      animation: false,
      responsive: false,
      layout: { padding: { left: 0, right: 11, top: 0, bottom: 0 } },
      plugins: {
        legend: { display: false },
        tooltip: { enabled: false },
        title: {
          display: true,
          text: title,
          color: textColor,
          font,
          fullSize: titleFull,
          padding: { top: titleTop, bottom: 15 },
        },
      },
      scales: {
        x: {
          type: 'linear',
          min: xMin,
          max: xMax,
          afterBuildTicks: (s: any) => {
            s.ticks = xTicks.map((value) => ({ value }));
          },
          afterFit: (s: any) => {
            s.height = xBoxHeight;
          },
          grid: { display: false, drawTicks: false },
          border: { display: true, color: '#b0b0b0' },
          ticks: {
            color: textColor,
            font,
            padding: 2,
            maxRotation: 0,
            autoSkip: false,
            callback: (v: any) => String(v).replace('-', '\u2212'),
          },
          title: {
            display: true,
            text: 'Wavelength [Å]',
            color: textColor,
            font,
            padding: { top: 0, bottom: xTitlePad },
          },
        },
        y: {
          type: 'linear',
          min: -3.12,
          max: 3.01,
          afterBuildTicks: (s: any) => {
            s.ticks = dTicks.map((value) => ({ value }));
          },
          afterFit: (s: any) => {
            s.width = 35;
          },
          grid: { display: false, drawTicks: false },
          border: { display: true, color: '#b0b0b0' },
          ticks: {
            color: textColor,
            font,
            padding: 4,
            minRotation: -90,
            maxRotation: -90,
            crossAlign: 'center',
            callback: (v: any) => String(v).replace('-', '\u2212'),
          },
          title: {
            display: true,
            text: 'tg_d [arcsec]',
            color: textColor,
            font,
            padding: { top: 11, bottom: 0 },
          },
        },
      },
    } as any,
    plugins: [cellsPlugin],
  });
}

const boxDataset = (pts: number[][], color: string) => ({
  data: toLine(pts),
  showLine: true,
  borderColor: color,
  borderWidth: 2,
  pointRadius: 0,
  fill: false,
});

const cellDataset = (rows: Rows, color: string, cellWidth: number) => ({
  data: toPoints(rows),
  cellColor: color,
  cellWidth,
  pointRadius: 0,
  showLine: false,
});

export default function App() {
  const hegRef = useRef<HTMLCanvasElement | null>(null);
  const megRef = useRef<HTMLCanvasElement | null>(null);

  useEffect(() => {
    const heg = makeChart(
      hegRef.current as HTMLCanvasElement,
      'HEG 1st order',
      9,
      true,
      -18,
      17,
      hegTicks,
      28,
      56,
      [
        cellDataset(hegRows, '#ff9a14', 0.1),
        cellDataset(hegPatchRows, '#ff9a14', 0.1),
        cellDataset(hegHotRows, '#ffff4a', 0.1),
        boxDataset(hegBoxLeft, '#0000c8'),
        boxDataset(hegBoxRight, '#0000c8'),
      ],
    );
    const meg = makeChart(
      megRef.current as HTMLCanvasElement,
      'MEG 1st order',
      26,
      false,
      -28,
      28,
      megTicks,
      11,
      39,
      [
        cellDataset(megRows, '#e65f00', 0.13),
        cellDataset(megPatchRows, '#e65f00', 0.13),
        cellDataset(megWarmRows, '#ff9a14', 0.13),
        cellDataset(megHotRows, '#ffe84a', 0.13),
        boxDataset(megBoxLeft, '#ff0000'),
        boxDataset(megBoxRight, '#ff0000'),
      ],
    );
    return () => {
      heg.destroy();
      meg.destroy();
    };
  }, []);

  return (
    <div style={{ position: 'absolute', left: 0, top: 0, width: 886, height: 636, background: '#fff' }}>
      <canvas ref={hegRef} width={886} height={318} style={{ display: 'block' }} />
      <canvas ref={megRef} width={886} height={318} style={{ display: 'block' }} />
    </div>
  );
}
